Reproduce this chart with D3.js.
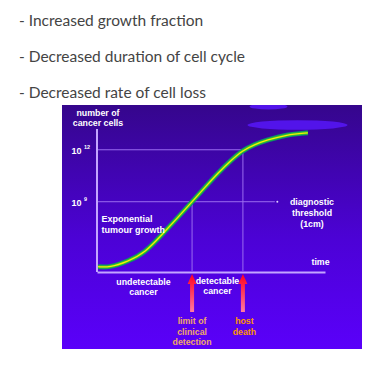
<!DOCTYPE html>
<html><head><meta charset="utf-8">
<script src="https://cdnjs.cloudflare.com/ajax/libs/d3/7.8.5/d3.min.js"></script>
<style>
html,body{margin:0;padding:0;background:#fff;}
svg{display:block;}
</style></head>
<body>
<svg id="chart" width="389" height="368"></svg>
<script>
// ---- data ----
const bulletLines = ["- Increased growth fraction", "- Decreased duration of cell cycle", "- Decreased rate of cell loss"];
const timePoints = [0.5, 5.5, 13.5, 21, 28.5, 35.5, 41.7, 47.5, 53, 59, 64, 69, 74.5, 83, 92.5];
const logCells   = [5.25, 5.2, 5.55, 6.05, 7.1, 8.1, 9.0, 9.85, 10.65, 11.42, 11.97, 12.3, 12.56, 12.87, 12.98];
const yTickValues = [9, 12];
const yTickLabels = ["9", "12"];
const detectionTime = 41.7;
const deathTime = 64;
const thresholdEnd = 78;

const svg = d3.select("#chart");
const defs = svg.append("defs");

// bullets
svg.selectAll("text.bullet").data(bulletLines).join("text")
  .attr("class","bullet")
  .attr("x", 19).attr("y", (d,i)=>26 + i*36)
  .attr("font-family","Lato, 'Open Sans', sans-serif")
  .attr("font-size", 15.5).attr("fill","#444")
  .text(d=>d);

// panel
const bg = defs.append("linearGradient").attr("id","bg").attr("x1",0).attr("y1",0).attr("x2",0).attr("y2",1);
bg.append("stop").attr("offset","0%").attr("stop-color","#35068c");
bg.append("stop").attr("offset","55%").attr("stop-color","#4c02d6");
bg.append("stop").attr("offset","100%").attr("stop-color","#5a00fa");
svg.append("rect").attr("x",62).attr("y",105).attr("width",300).attr("height",244).attr("fill","url(#bg)");

// smudged blobs
const clip = defs.append("clipPath").attr("id","panelclip");
clip.append("rect").attr("x",62).attr("y",105).attr("width",300).attr("height",244);
const blobs = svg.append("g").attr("clip-path","url(#panelclip)");
blobs.append("ellipse").attr("cx",268.5).attr("cy",106.5).attr("rx",19).attr("ry",3).attr("fill","#5214ea");
blobs.append("ellipse").attr("cx",297.5).attr("cy",125).attr("rx",50).attr("ry",4.8).attr("fill","#5214ea");

// scales
const x = d3.scaleLinear().domain([0,100]).range([97,325]);
const y = d3.scaleLinear().domain([5,13.2]).range([271,129]);

const ff = "'Liberation Sans', Arial, sans-serif";

// grid lines
const gridColor = "#9b6cf0";
svg.append("line").attr("x1",x(0)).attr("x2",x(deathTime)).attr("y1",y(12)).attr("y2",y(12))
  .attr("stroke",gridColor).attr("stroke-width",1);
svg.append("line").attr("x1",x(0)).attr("x2",x(thresholdEnd)).attr("y1",y(9)).attr("y2",y(9))
  .attr("stroke",gridColor).attr("stroke-width",1);
svg.append("circle").attr("cx",x(thresholdEnd)+2.5).attr("cy",y(9)).attr("r",1).attr("fill","#e0d0ff");
svg.append("line").attr("x1",x(detectionTime)).attr("x2",x(detectionTime)).attr("y1",y(9)).attr("y2",y(5))
  .attr("stroke",gridColor).attr("stroke-width",1);
svg.append("line").attr("x1",x(deathTime)).attr("x2",x(deathTime)).attr("y1",y(12)).attr("y2",y(5))
  .attr("stroke",gridColor).attr("stroke-width",1);

// axes
const axisColor = "#c4a6ff";
const yAxis = svg.append("g").attr("transform",`translate(${x(0)},0)`)
  .call(d3.axisLeft(y).tickValues(yTickValues).tickSize(0).tickSizeOuter(0).tickFormat(""));
yAxis.select(".domain").attr("stroke",axisColor).attr("stroke-width",2).attr("d",`M0,${y(13.2)}V${y(5)+1}`);
yAxis.selectAll(".tick text").remove();
yAxis.selectAll(".tick").each(function(d){
  const t = d3.select(this).append("text").attr("fill","#fff").attr("font-family",ff).attr("font-weight","bold")
    .attr("text-anchor","start").attr("x",-25.5).attr("y",3.5).attr("font-size",9);
  t.append("tspan").text("10");
  t.append("tspan").attr("dx",2.5).attr("dy",-5).attr("font-size",5.5).text(yTickLabels[yTickValues.indexOf(d)]);
});
const xAxis = svg.append("g").attr("transform",`translate(0,${y(5)+1})`)
  .call(d3.axisBottom(x).tickValues([]).tickSize(0).tickSizeOuter(0));
xAxis.select(".domain").attr("stroke",axisColor).attr("stroke-width",2.2);

// curve
const line = d3.line().x((d,i)=>x(timePoints[i])).y(d=>y(d)).curve(d3.curveBasis);
svg.append("path").datum(logCells).attr("d",line).attr("fill","none").attr("stroke","#0a8f6a").attr("stroke-width",5);
svg.append("path").datum(logCells).attr("d",line).attr("fill","none").attr("stroke","#2fb83a").attr("stroke-width",3.2);
svg.append("path").datum(logCells).attr("d",line).attr("fill","none").attr("stroke","#f4f400").attr("stroke-width",1.3);

// text labels
function label(lines, cx, cy, anchor, color, size, lh){
  const t = svg.append("text").attr("font-family",ff).attr("font-weight","bold").attr("font-size",size||9)
    .attr("fill",color||"#fff").attr("text-anchor",anchor||"middle");
  lines.forEach((s,i)=>t.append("tspan").attr("x",cx).attr("y",cy + i*(lh||10.5)).text(s));
  return t;
}
label(["number of","cancer cells"], 98, 116, "middle", "#fff", 8.8, 10);
label(["Exponential","tumour growth"], 101.5, 221.5, "start", "#fff", 9, 11);
label(["diagnostic","threshold","(1cm)"], 312, 204.5, "middle", "#fff", 8.8, 11);
label(["time"], 320.5, 264.5, "middle", "#fff", 8.8);
label(["undetectable","cancer"], 143.5, 285, "middle", "#fff", 8.8, 10.3);
label(["detectable","cancer"], 217.5, 283.5, "middle", "#fff", 8.8, 10.3);
label(["limit of","clinical","detection"], x(detectionTime), 324, "middle", "#f0a868", 8.8, 10.5);
label(["host","death"], x(deathTime)+1.5, 324, "middle", "#ff9500", 8.8, 10.5);

// arrows
const ag = defs.append("linearGradient").attr("id","arr").attr("x1",0).attr("y1",0).attr("x2",0).attr("y2",1);
ag.append("stop").attr("offset","0%").attr("stop-color","#ff0020");
ag.append("stop").attr("offset","100%").attr("stop-color","#ff7aa0");
[detectionTime, deathTime].forEach(t=>{
  const cx = x(t);
  const top = y(5)+3;
  svg.append("path")
    .attr("d",`M${cx},${top} L${cx+4.5},${top+10} L${cx+2},${top+10} L${cx+2},${top+38} L${cx-2},${top+38} L${cx-2},${top+10} L${cx-4.5},${top+10} Z`)
    .attr("fill","url(#arr)");
});
</script>
</body></html>
